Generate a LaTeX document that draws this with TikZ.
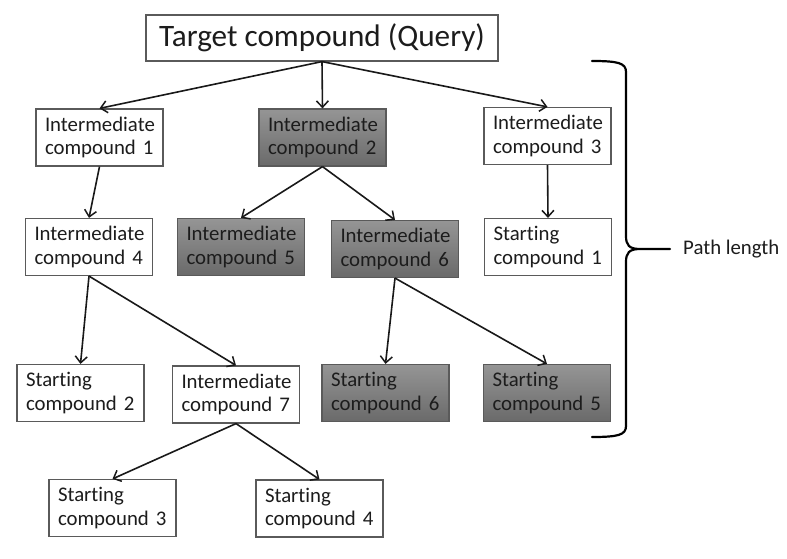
\documentclass[tikz,border=0pt]{standalone}
\usepackage{fontspec}
\setmainfont[Ligatures=NoCommon]{Carlito}
\usetikzlibrary{arrows.meta}
\definecolor{gtop}{HTML}{959595}
\definecolor{gbot}{HTML}{6A6A6A}
\definecolor{txt}{HTML}{1C1C1C}
\definecolor{bord}{HTML}{5A5A5A}
\tikzset{
  box/.style={draw=bord, line width=1.2pt, fill=white, text=txt, align=left,
    text width=109pt, inner xsep=9pt, inner ysep=0pt, minimum height=57pt,
    font=\fontsize{20.8}{23.5}\selectfont},
  gbox/.style={box, top color=gtop, bottom color=gbot, draw=bord},
  arr/.style={line width=1.6pt, draw=black!90, -{Straight Barb[length=6.5pt,width=12pt,line width=1.5pt]}},
}
\begin{document}
\begin{tikzpicture}[x=1pt,y=-1pt]
\useasboundingbox (0,0) rectangle (787,559);
\node[draw=bord, line width=1.2pt, text=txt, minimum width=352pt, minimum height=46pt, inner sep=0pt,
  font=\fontsize{31.2}{36}\selectfont] (t) at (322,38) {Target compound (Query)};
\node[box]  (i1) at (99.5,137.5) {Intermediate\\compound 1};
\node[gbox] (i2) at (322.5,137.5) {Intermediate\\compound 2};
\node[box]  (i3) at (547.5,136) {Intermediate\\compound 3};
\node[box]  (i4) at (89,247) {Intermediate\\compound 4};
\node[gbox] (i5) at (241,247) {Intermediate\\compound 5};
\node[gbox] (i6) at (395,249) {Intermediate\\compound 6};
\node[box]  (s1) at (548,247) {Starting\\compound 1};
\node[box]  (s2) at (80.5,393) {Starting\\compound 2};
\node[box]  (i7) at (236,394.5) {Intermediate\\compound 7};
\node[gbox] (s6) at (385.5,393) {Starting\\compound 6};
\node[gbox] (s5) at (547,393) {Starting\\compound 5};
\node[box]  (s3) at (112.5,508) {Starting\\compound 3};
\node[box]  (s4) at (319.5,508.5) {Starting\\compound 4};
\draw[arr] (t.south) -- (i1.north);
\draw[arr] (t.south) -- (i2.north);
\draw[arr] (t.south) -- (i3.north);
\draw[arr] (i1.south) -- (i4.north);
\draw[arr] (i2.south) -- (i5.north);
\draw[arr] (i2.south) -- (i6.north);
\draw[arr] (i3.south) -- (s1.north);
\draw[arr] (i4.south) -- (s2.north);
\draw[arr] (i4.south) -- (i7.north);
\draw[arr] (i6.south) -- (s6.north);
\draw[arr] (i6.south) -- (s5.north);
\draw[arr] (i7.south) -- (s3.north);
\draw[arr] (i7.south) -- (s4.north);
% brace
\coordinate (bt) at (592,61);
\coordinate (bb) at (592,437);
\coordinate (bm) at (670,249);
\draw[line width=2.2pt, line cap=round] (bt) .. controls (618,61) and (626,63) .. (626,72)
  -- (626,236) .. controls (626,245) and (629,249) .. (640,249) -- (bm)
  (640,249) .. controls (629,249) and (626,253) .. (626,262)
  -- (626,426) .. controls (626,435) and (618,437) .. (bb);
\node[anchor=west, text=txt, font=\fontsize{20.8}{23.5}\selectfont, inner sep=0pt] (pl) at (683,249) {Path length};
\end{tikzpicture}
\end{document}
